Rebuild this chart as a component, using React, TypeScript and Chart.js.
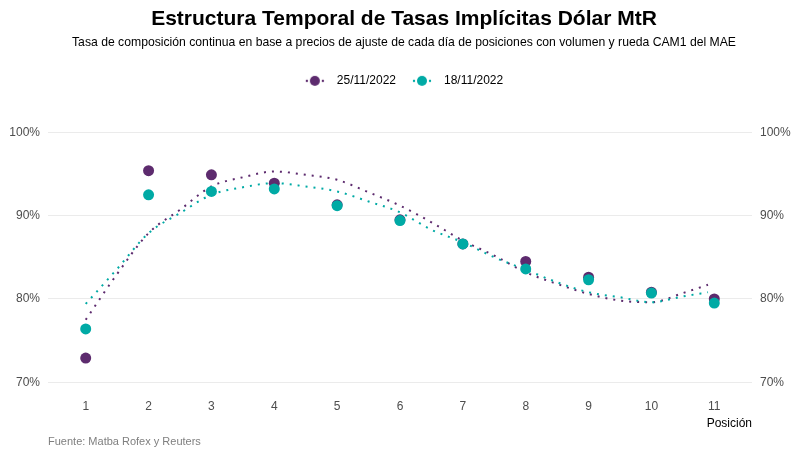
import { useEffect, useRef } from "react";
import { Chart, registerables } from "chart.js";

Chart.register(...registerables);

const positions = [1, 2, 3, 4, 5, 6, 7, 8, 9, 10, 11];
const yTicks = [70, 80, 90, 100];

// observed implied rates (%)
const rates2511 = [72.9, 95.4, 94.9, 93.9, 91.3, 89.5, 86.6, 84.5, 82.6, 80.8, 80.0];
const rates1811 = [76.4, 92.5, 92.9, 93.2, 91.2, 89.4, 86.6, 83.6, 82.3, 80.7, 79.5];

// smoothed trend
const trendX = [1, 1.5, 2, 2.5, 3, 3.5, 4, 4.5, 5, 5.5, 6, 6.5, 7, 7.5, 8, 8.5, 9, 9.5, 10, 10.5, 10.9];
const trend2511 = [77.5, 83.0, 87.9, 90.7, 93.5, 94.6, 95.3, 94.9, 94.3, 92.8, 91.2, 89.2, 87.0, 85.2, 83.2, 81.8, 80.6, 79.8, 79.6, 80.7, 81.7];
const trend1811 = [79.4, 83.6, 87.9, 90.3, 92.5, 93.4, 93.9, 93.5, 92.9, 91.7, 90.4, 88.3, 86.8, 85.0, 83.5, 82.0, 80.8, 80.2, 79.6, 80.3, 80.8];

const labels = ["25/11/2022", "18/11/2022"];
const PURPLE = "#5d2b6e";
const TEAL = "#00aaa5";

const FONT = "'Liberation Sans', Arial, Helvetica, sans-serif";

function makeKey(color: string) {
  const c = document.createElement("canvas");
  c.width = 26;
  c.height = 12;
  const ctx = c.getContext("2d")!;
  ctx.fillStyle = color;
  for (const x of [2, 18]) {
    ctx.beginPath();
    ctx.arc(x, 6, 1.2, 0, Math.PI * 2);
    ctx.fill();
  }
  ctx.beginPath();
  ctx.arc(10, 6, 5, 0, Math.PI * 2);
  ctx.fill();
  return c;
}

const caption = {
  id: "caption",
  afterDraw(chart: Chart) {
    const { ctx, chartArea } = chart;
    ctx.save();
    ctx.font = `11px ${FONT}`;
    ctx.fillStyle = "#7f7f7f";
    ctx.textBaseline = "middle";
    ctx.textAlign = "left";
    ctx.fillText("Fuente: Matba Rofex y Reuters", chartArea.left, chart.height - 15);
    ctx.restore();
  },
};

// extra gap between the legend and the plot
const legendGap = {
  id: "legendGap",
  beforeInit(chart: any) {
    const fit = chart.legend.fit;
    chart.legend.fit = function () {
      fit.bind(chart.legend)();
      this.height += 23;
    };
  },
};

export default function App() {
  const canvasRef = useRef<HTMLCanvasElement>(null);

  useEffect(() => {
    const keys = [makeKey(PURPLE), makeKey(TEAL)];
    const yAxis = (position: "left" | "right", grid: boolean, width: number) => ({
      type: "linear" as const,
      position,
      min: 68.5,
      max: 101.5,
      afterBuildTicks: (axis: any) => {
        axis.ticks = yTicks.map((v) => ({ value: v }));
      },
      afterFit: (axis: any) => {
        axis.width = width;
      },
      border: { display: false },
      grid: { display: grid, color: "#ebebeb", lineWidth: 1.1, drawTicks: false },
      ticks: {
        padding: 8,
        color: "#4d4d4d",
        font: { size: 12 },
        callback: (v: any) => `${v}%`,
      },
    });

    const chart = new Chart(canvasRef.current!, {
      type: "scatter",
      data: {
        datasets: [
          {
            label: labels[0],
            data: positions.map((x, i) => ({ x, y: rates2511[i] })),
            backgroundColor: PURPLE,
            borderColor: PURPLE,
            pointRadius: 5.5,
            borderWidth: 0,
            order: 1,
          },
          {
            label: labels[1],
            data: positions.map((x, i) => ({ x, y: rates1811[i] })),
            backgroundColor: TEAL,
            borderColor: TEAL,
            pointRadius: 5.5,
            borderWidth: 0,
            order: 0,
          },
          {
            label: "trend " + labels[0],
            data: trendX.map((x, i) => ({ x, y: trend2511[i] })),
            showLine: true,
            borderColor: PURPLE,
            borderWidth: 2,
            borderDash: [2, 6],
            pointRadius: 0,
            cubicInterpolationMode: "monotone",
            order: 3,
          },
          {
            label: "trend " + labels[1],
            data: trendX.map((x, i) => ({ x, y: trend1811[i] })),
            showLine: true,
            borderColor: TEAL,
            borderWidth: 2,
            borderDash: [2, 6],
            pointRadius: 0,
            cubicInterpolationMode: "monotone",
            order: 2,
          },
        ],
      },
      options: {
        animation: false,
        responsive: true,
        maintainAspectRatio: false,
        events: [],
        layout: { padding: { left: 9, right: 1, top: 0, bottom: 26.5 } },
        plugins: {
          tooltip: { enabled: false },
          title: {
            display: true,
            text: "Estructura Temporal de Tasas Implícitas Dólar MtR",
            color: "#000",
            font: { size: 21, weight: "bold", lineHeight: 1.2 },
            padding: { top: 7, bottom: 3 },
          },
          subtitle: {
            display: true,
            text: "Tasa de composición continua en base a precios de ajuste de cada día de posiciones con volumen y rueda CAM1 del MAE",
            color: "#000",
            font: { size: 12.2, lineHeight: 1.2 },
            padding: { top: 0, bottom: 9 },
          },
          legend: {
            display: true,
            position: "top",
            labels: {
              usePointStyle: true,
              pointStyleWidth: 26,
              padding: 16,
              color: "#000",
              font: { size: 12 },
              generateLabels: () =>
                labels.map((text, i) => ({
                  text,
                  pointStyle: keys[i],
                  fillStyle: i === 0 ? PURPLE : TEAL,
                  strokeStyle: "transparent",
                  lineWidth: 0,
                  hidden: false,
                  datasetIndex: i,
                })),
            },
          },
        },
        scales: {
          x: {
            type: "linear",
            min: 0.4,
            max: 11.6,
            afterBuildTicks: (axis: any) => {
              axis.ticks = positions.map((v) => ({ value: v }));
            },
            border: { display: false },
            grid: { display: false, drawTicks: false },
            ticks: { padding: 4.5, color: "#4d4d4d", font: { size: 12 } },
            title: {
              display: true,
              text: "Posición",
              align: "end",
              color: "#000",
              font: { size: 12 },
              padding: { top: -2, bottom: 0 },
            },
          },
          y: yAxis("left", true, 39),
          y2: yAxis("right", false, 47),
        },
      },
      plugins: [caption, legendGap],
    });

    return () => chart.destroy();
  }, []);

  return (
    <div style={{ position: "absolute", left: 0, top: 0, width: 800, height: 457, background: "#fff" }}>
      <canvas ref={canvasRef}></canvas>
    </div>
  );
}

Chart.defaults.font.family = FONT;
